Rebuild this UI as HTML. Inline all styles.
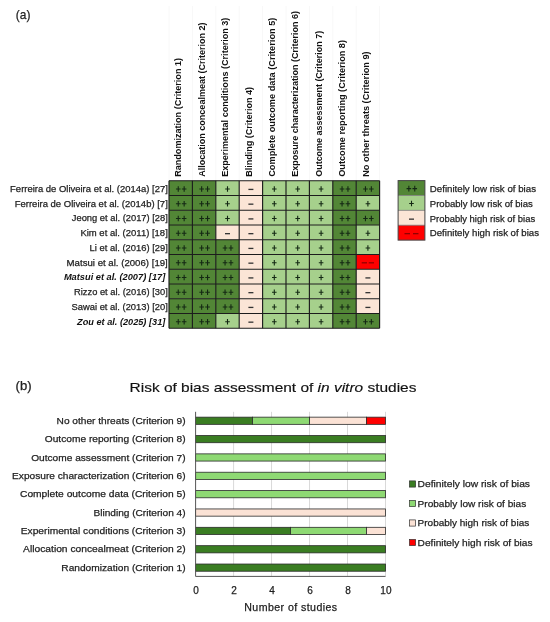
<!DOCTYPE html><html><head><meta charset="utf-8"><style>html,body{margin:0;padding:0;background:#fff;width:550px;height:622px;overflow:hidden}svg{display:block}text{font-family:"Liberation Sans",sans-serif}.n{stroke:#1e1e1e;stroke-width:0.25px}</style></head><body>
<svg style="will-change:transform;filter:blur(0.35px)" width="550" height="622" viewBox="0 0 550 622">
<rect width="550" height="622" fill="#fff"/>
<line x1="169.00" y1="6" x2="169.00" y2="180.70" stroke="#f8f8f8" stroke-width="1"/>
<line x1="192.40" y1="6" x2="192.40" y2="180.70" stroke="#f8f8f8" stroke-width="1"/>
<line x1="215.80" y1="6" x2="215.80" y2="180.70" stroke="#f8f8f8" stroke-width="1"/>
<line x1="239.20" y1="6" x2="239.20" y2="180.70" stroke="#f8f8f8" stroke-width="1"/>
<line x1="262.60" y1="6" x2="262.60" y2="180.70" stroke="#f8f8f8" stroke-width="1"/>
<line x1="286.00" y1="6" x2="286.00" y2="180.70" stroke="#f8f8f8" stroke-width="1"/>
<line x1="309.40" y1="6" x2="309.40" y2="180.70" stroke="#f8f8f8" stroke-width="1"/>
<line x1="332.80" y1="6" x2="332.80" y2="180.70" stroke="#f8f8f8" stroke-width="1"/>
<line x1="356.20" y1="6" x2="356.20" y2="180.70" stroke="#f8f8f8" stroke-width="1"/>
<line x1="379.60" y1="6" x2="379.60" y2="180.70" stroke="#f8f8f8" stroke-width="1"/>
<text x="15.8" y="19.3" font-size="12.8" fill="#222" class="n" textLength="14.6" lengthAdjust="spacingAndGlyphs">(a)</text>
<text transform="translate(181.40,176.8) rotate(-90)" font-size="9" font-weight="bold" fill="#111" textLength="118.8" lengthAdjust="spacingAndGlyphs">Randomization (Criterion 1)</text>
<text transform="translate(204.80,176.8) rotate(-90)" font-size="9" font-weight="bold" fill="#111" textLength="154.4" lengthAdjust="spacingAndGlyphs">Allocation concealmeat (Criterion 2)</text>
<text transform="translate(228.20,176.8) rotate(-90)" font-size="9" font-weight="bold" fill="#111" textLength="159.2" lengthAdjust="spacingAndGlyphs">Experimental conditions (Criterion 3)</text>
<text transform="translate(251.60,176.8) rotate(-90)" font-size="9" font-weight="bold" fill="#111" textLength="89.8" lengthAdjust="spacingAndGlyphs">Blinding (Criterion 4)</text>
<text transform="translate(275.00,176.8) rotate(-90)" font-size="9" font-weight="bold" fill="#111" textLength="159.2" lengthAdjust="spacingAndGlyphs">Complete outcome data (Criterion 5)</text>
<text transform="translate(298.40,176.8) rotate(-90)" font-size="9" font-weight="bold" fill="#111" textLength="165.8" lengthAdjust="spacingAndGlyphs">Exposure characterization (Criterion 6)</text>
<text transform="translate(321.80,176.8) rotate(-90)" font-size="9" font-weight="bold" fill="#111" textLength="146.0" lengthAdjust="spacingAndGlyphs">Outcome assessment (Criterion 7)</text>
<text transform="translate(345.20,176.8) rotate(-90)" font-size="9" font-weight="bold" fill="#111" textLength="136.8" lengthAdjust="spacingAndGlyphs">Outcome reporting (Criterion 8)</text>
<text transform="translate(368.60,176.8) rotate(-90)" font-size="9" font-weight="bold" fill="#111" textLength="125.4" lengthAdjust="spacingAndGlyphs">No other threats (Criterion 9)</text>
<text x="167.8" y="191.80" text-anchor="end" font-size="9.4" fill="#1e1e1e" class="n" textLength="157.7" lengthAdjust="spacingAndGlyphs">Ferreira de Oliveira et al. (2014a) [27]</text>
<text x="167.8" y="206.55" text-anchor="end" font-size="9.4" fill="#1e1e1e" class="n" textLength="153.1" lengthAdjust="spacingAndGlyphs">Ferreira de Oliveira et al. (2014b) [7]</text>
<text x="167.8" y="221.30" text-anchor="end" font-size="9.4" fill="#1e1e1e" class="n" textLength="96.0" lengthAdjust="spacingAndGlyphs">Jeong et al. (2017) [28]</text>
<text x="167.8" y="236.05" text-anchor="end" font-size="9.4" fill="#1e1e1e" class="n" textLength="87.4" lengthAdjust="spacingAndGlyphs">Kim et al. (2011) [18]</text>
<text x="167.8" y="250.80" text-anchor="end" font-size="9.4" fill="#1e1e1e" class="n" textLength="78.2" lengthAdjust="spacingAndGlyphs">Li et al. (2016) [29]</text>
<text x="167.8" y="265.55" text-anchor="end" font-size="9.4" fill="#1e1e1e" class="n" textLength="101.2" lengthAdjust="spacingAndGlyphs">Matsui et al. (2006) [19]</text>
<text x="165.3" y="280.30" text-anchor="end" font-size="9.4" font-weight="bold" font-style="italic" fill="#111" textLength="101.4" lengthAdjust="spacingAndGlyphs">Matsui et al. (2007) [17]</text>
<text x="167.8" y="295.05" text-anchor="end" font-size="9.4" fill="#1e1e1e" class="n" textLength="93.8" lengthAdjust="spacingAndGlyphs">Rizzo et al. (2016) [30]</text>
<text x="167.8" y="309.80" text-anchor="end" font-size="9.4" fill="#1e1e1e" class="n" textLength="96.2" lengthAdjust="spacingAndGlyphs">Sawai et al. (2013) [20]</text>
<text x="165.3" y="324.55" text-anchor="end" font-size="9.4" font-weight="bold" font-style="italic" fill="#111" textLength="88.2" lengthAdjust="spacingAndGlyphs">Zou et al. (2025) [31]</text>
<rect x="169.00" y="180.70" width="23.40" height="14.75" fill="#528636"/>
<path d="M177.70 186.17h1.1v5.60h-1.1zM175.95 188.42h4.60v1.1h-4.60z" fill="#142814"/>
<path d="M183.60 186.17h1.1v5.60h-1.1zM181.85 188.42h4.60v1.1h-4.60z" fill="#142814"/>
<rect x="192.40" y="180.70" width="23.40" height="14.75" fill="#528636"/>
<path d="M201.10 186.17h1.1v5.60h-1.1zM199.35 188.42h4.60v1.1h-4.60z" fill="#142814"/>
<path d="M207.00 186.17h1.1v5.60h-1.1zM205.25 188.42h4.60v1.1h-4.60z" fill="#142814"/>
<rect x="215.80" y="180.70" width="23.40" height="14.75" fill="#a6d08c"/>
<path d="M226.95 186.17h1.1v5.60h-1.1zM225.20 188.42h4.60v1.1h-4.60z" fill="#142814"/>
<rect x="239.20" y="180.70" width="23.40" height="14.75" fill="#fbe5d6"/>
<rect x="248.40" y="188.77" width="5" height="1.3" fill="#333"/>
<rect x="262.60" y="180.70" width="23.40" height="14.75" fill="#a6d08c"/>
<path d="M273.75 186.17h1.1v5.60h-1.1zM272.00 188.42h4.60v1.1h-4.60z" fill="#142814"/>
<rect x="286.00" y="180.70" width="23.40" height="14.75" fill="#a6d08c"/>
<path d="M297.15 186.17h1.1v5.60h-1.1zM295.40 188.42h4.60v1.1h-4.60z" fill="#142814"/>
<rect x="309.40" y="180.70" width="23.40" height="14.75" fill="#a6d08c"/>
<path d="M320.55 186.17h1.1v5.60h-1.1zM318.80 188.42h4.60v1.1h-4.60z" fill="#142814"/>
<rect x="332.80" y="180.70" width="23.40" height="14.75" fill="#528636"/>
<path d="M341.50 186.17h1.1v5.60h-1.1zM339.75 188.42h4.60v1.1h-4.60z" fill="#142814"/>
<path d="M347.40 186.17h1.1v5.60h-1.1zM345.65 188.42h4.60v1.1h-4.60z" fill="#142814"/>
<rect x="356.20" y="180.70" width="23.40" height="14.75" fill="#528636"/>
<path d="M364.90 186.17h1.1v5.60h-1.1zM363.15 188.42h4.60v1.1h-4.60z" fill="#142814"/>
<path d="M370.80 186.17h1.1v5.60h-1.1zM369.05 188.42h4.60v1.1h-4.60z" fill="#142814"/>
<rect x="169.00" y="195.45" width="23.40" height="14.75" fill="#528636"/>
<path d="M177.70 200.92h1.1v5.60h-1.1zM175.95 203.17h4.60v1.1h-4.60z" fill="#142814"/>
<path d="M183.60 200.92h1.1v5.60h-1.1zM181.85 203.17h4.60v1.1h-4.60z" fill="#142814"/>
<rect x="192.40" y="195.45" width="23.40" height="14.75" fill="#528636"/>
<path d="M201.10 200.92h1.1v5.60h-1.1zM199.35 203.17h4.60v1.1h-4.60z" fill="#142814"/>
<path d="M207.00 200.92h1.1v5.60h-1.1zM205.25 203.17h4.60v1.1h-4.60z" fill="#142814"/>
<rect x="215.80" y="195.45" width="23.40" height="14.75" fill="#a6d08c"/>
<path d="M226.95 200.92h1.1v5.60h-1.1zM225.20 203.17h4.60v1.1h-4.60z" fill="#142814"/>
<rect x="239.20" y="195.45" width="23.40" height="14.75" fill="#fbe5d6"/>
<rect x="248.40" y="203.52" width="5" height="1.3" fill="#333"/>
<rect x="262.60" y="195.45" width="23.40" height="14.75" fill="#a6d08c"/>
<path d="M273.75 200.92h1.1v5.60h-1.1zM272.00 203.17h4.60v1.1h-4.60z" fill="#142814"/>
<rect x="286.00" y="195.45" width="23.40" height="14.75" fill="#a6d08c"/>
<path d="M297.15 200.92h1.1v5.60h-1.1zM295.40 203.17h4.60v1.1h-4.60z" fill="#142814"/>
<rect x="309.40" y="195.45" width="23.40" height="14.75" fill="#a6d08c"/>
<path d="M320.55 200.92h1.1v5.60h-1.1zM318.80 203.17h4.60v1.1h-4.60z" fill="#142814"/>
<rect x="332.80" y="195.45" width="23.40" height="14.75" fill="#528636"/>
<path d="M341.50 200.92h1.1v5.60h-1.1zM339.75 203.17h4.60v1.1h-4.60z" fill="#142814"/>
<path d="M347.40 200.92h1.1v5.60h-1.1zM345.65 203.17h4.60v1.1h-4.60z" fill="#142814"/>
<rect x="356.20" y="195.45" width="23.40" height="14.75" fill="#a6d08c"/>
<path d="M367.35 200.92h1.1v5.60h-1.1zM365.60 203.17h4.60v1.1h-4.60z" fill="#142814"/>
<rect x="169.00" y="210.20" width="23.40" height="14.75" fill="#528636"/>
<path d="M177.70 215.67h1.1v5.60h-1.1zM175.95 217.92h4.60v1.1h-4.60z" fill="#142814"/>
<path d="M183.60 215.67h1.1v5.60h-1.1zM181.85 217.92h4.60v1.1h-4.60z" fill="#142814"/>
<rect x="192.40" y="210.20" width="23.40" height="14.75" fill="#528636"/>
<path d="M201.10 215.67h1.1v5.60h-1.1zM199.35 217.92h4.60v1.1h-4.60z" fill="#142814"/>
<path d="M207.00 215.67h1.1v5.60h-1.1zM205.25 217.92h4.60v1.1h-4.60z" fill="#142814"/>
<rect x="215.80" y="210.20" width="23.40" height="14.75" fill="#a6d08c"/>
<path d="M226.95 215.67h1.1v5.60h-1.1zM225.20 217.92h4.60v1.1h-4.60z" fill="#142814"/>
<rect x="239.20" y="210.20" width="23.40" height="14.75" fill="#fbe5d6"/>
<rect x="248.40" y="218.27" width="5" height="1.3" fill="#333"/>
<rect x="262.60" y="210.20" width="23.40" height="14.75" fill="#a6d08c"/>
<path d="M273.75 215.67h1.1v5.60h-1.1zM272.00 217.92h4.60v1.1h-4.60z" fill="#142814"/>
<rect x="286.00" y="210.20" width="23.40" height="14.75" fill="#a6d08c"/>
<path d="M297.15 215.67h1.1v5.60h-1.1zM295.40 217.92h4.60v1.1h-4.60z" fill="#142814"/>
<rect x="309.40" y="210.20" width="23.40" height="14.75" fill="#a6d08c"/>
<path d="M320.55 215.67h1.1v5.60h-1.1zM318.80 217.92h4.60v1.1h-4.60z" fill="#142814"/>
<rect x="332.80" y="210.20" width="23.40" height="14.75" fill="#528636"/>
<path d="M341.50 215.67h1.1v5.60h-1.1zM339.75 217.92h4.60v1.1h-4.60z" fill="#142814"/>
<path d="M347.40 215.67h1.1v5.60h-1.1zM345.65 217.92h4.60v1.1h-4.60z" fill="#142814"/>
<rect x="356.20" y="210.20" width="23.40" height="14.75" fill="#528636"/>
<path d="M364.90 215.67h1.1v5.60h-1.1zM363.15 217.92h4.60v1.1h-4.60z" fill="#142814"/>
<path d="M370.80 215.67h1.1v5.60h-1.1zM369.05 217.92h4.60v1.1h-4.60z" fill="#142814"/>
<rect x="169.00" y="224.95" width="23.40" height="14.75" fill="#528636"/>
<path d="M177.70 230.42h1.1v5.60h-1.1zM175.95 232.67h4.60v1.1h-4.60z" fill="#142814"/>
<path d="M183.60 230.42h1.1v5.60h-1.1zM181.85 232.67h4.60v1.1h-4.60z" fill="#142814"/>
<rect x="192.40" y="224.95" width="23.40" height="14.75" fill="#528636"/>
<path d="M201.10 230.42h1.1v5.60h-1.1zM199.35 232.67h4.60v1.1h-4.60z" fill="#142814"/>
<path d="M207.00 230.42h1.1v5.60h-1.1zM205.25 232.67h4.60v1.1h-4.60z" fill="#142814"/>
<rect x="215.80" y="224.95" width="23.40" height="14.75" fill="#fbe5d6"/>
<rect x="225.00" y="233.02" width="5" height="1.3" fill="#333"/>
<rect x="239.20" y="224.95" width="23.40" height="14.75" fill="#fbe5d6"/>
<rect x="248.40" y="233.02" width="5" height="1.3" fill="#333"/>
<rect x="262.60" y="224.95" width="23.40" height="14.75" fill="#a6d08c"/>
<path d="M273.75 230.42h1.1v5.60h-1.1zM272.00 232.67h4.60v1.1h-4.60z" fill="#142814"/>
<rect x="286.00" y="224.95" width="23.40" height="14.75" fill="#a6d08c"/>
<path d="M297.15 230.42h1.1v5.60h-1.1zM295.40 232.67h4.60v1.1h-4.60z" fill="#142814"/>
<rect x="309.40" y="224.95" width="23.40" height="14.75" fill="#a6d08c"/>
<path d="M320.55 230.42h1.1v5.60h-1.1zM318.80 232.67h4.60v1.1h-4.60z" fill="#142814"/>
<rect x="332.80" y="224.95" width="23.40" height="14.75" fill="#528636"/>
<path d="M341.50 230.42h1.1v5.60h-1.1zM339.75 232.67h4.60v1.1h-4.60z" fill="#142814"/>
<path d="M347.40 230.42h1.1v5.60h-1.1zM345.65 232.67h4.60v1.1h-4.60z" fill="#142814"/>
<rect x="356.20" y="224.95" width="23.40" height="14.75" fill="#a6d08c"/>
<path d="M367.35 230.42h1.1v5.60h-1.1zM365.60 232.67h4.60v1.1h-4.60z" fill="#142814"/>
<rect x="169.00" y="239.70" width="23.40" height="14.75" fill="#528636"/>
<path d="M177.70 245.17h1.1v5.60h-1.1zM175.95 247.42h4.60v1.1h-4.60z" fill="#142814"/>
<path d="M183.60 245.17h1.1v5.60h-1.1zM181.85 247.42h4.60v1.1h-4.60z" fill="#142814"/>
<rect x="192.40" y="239.70" width="23.40" height="14.75" fill="#528636"/>
<path d="M201.10 245.17h1.1v5.60h-1.1zM199.35 247.42h4.60v1.1h-4.60z" fill="#142814"/>
<path d="M207.00 245.17h1.1v5.60h-1.1zM205.25 247.42h4.60v1.1h-4.60z" fill="#142814"/>
<rect x="215.80" y="239.70" width="23.40" height="14.75" fill="#528636"/>
<path d="M224.50 245.17h1.1v5.60h-1.1zM222.75 247.42h4.60v1.1h-4.60z" fill="#142814"/>
<path d="M230.40 245.17h1.1v5.60h-1.1zM228.65 247.42h4.60v1.1h-4.60z" fill="#142814"/>
<rect x="239.20" y="239.70" width="23.40" height="14.75" fill="#fbe5d6"/>
<rect x="248.40" y="247.77" width="5" height="1.3" fill="#333"/>
<rect x="262.60" y="239.70" width="23.40" height="14.75" fill="#a6d08c"/>
<path d="M273.75 245.17h1.1v5.60h-1.1zM272.00 247.42h4.60v1.1h-4.60z" fill="#142814"/>
<rect x="286.00" y="239.70" width="23.40" height="14.75" fill="#a6d08c"/>
<path d="M297.15 245.17h1.1v5.60h-1.1zM295.40 247.42h4.60v1.1h-4.60z" fill="#142814"/>
<rect x="309.40" y="239.70" width="23.40" height="14.75" fill="#a6d08c"/>
<path d="M320.55 245.17h1.1v5.60h-1.1zM318.80 247.42h4.60v1.1h-4.60z" fill="#142814"/>
<rect x="332.80" y="239.70" width="23.40" height="14.75" fill="#528636"/>
<path d="M341.50 245.17h1.1v5.60h-1.1zM339.75 247.42h4.60v1.1h-4.60z" fill="#142814"/>
<path d="M347.40 245.17h1.1v5.60h-1.1zM345.65 247.42h4.60v1.1h-4.60z" fill="#142814"/>
<rect x="356.20" y="239.70" width="23.40" height="14.75" fill="#a6d08c"/>
<path d="M367.35 245.17h1.1v5.60h-1.1zM365.60 247.42h4.60v1.1h-4.60z" fill="#142814"/>
<rect x="169.00" y="254.45" width="23.40" height="14.75" fill="#528636"/>
<path d="M177.70 259.92h1.1v5.60h-1.1zM175.95 262.17h4.60v1.1h-4.60z" fill="#142814"/>
<path d="M183.60 259.92h1.1v5.60h-1.1zM181.85 262.17h4.60v1.1h-4.60z" fill="#142814"/>
<rect x="192.40" y="254.45" width="23.40" height="14.75" fill="#528636"/>
<path d="M201.10 259.92h1.1v5.60h-1.1zM199.35 262.17h4.60v1.1h-4.60z" fill="#142814"/>
<path d="M207.00 259.92h1.1v5.60h-1.1zM205.25 262.17h4.60v1.1h-4.60z" fill="#142814"/>
<rect x="215.80" y="254.45" width="23.40" height="14.75" fill="#528636"/>
<path d="M224.50 259.92h1.1v5.60h-1.1zM222.75 262.17h4.60v1.1h-4.60z" fill="#142814"/>
<path d="M230.40 259.92h1.1v5.60h-1.1zM228.65 262.17h4.60v1.1h-4.60z" fill="#142814"/>
<rect x="239.20" y="254.45" width="23.40" height="14.75" fill="#fbe5d6"/>
<rect x="248.40" y="262.52" width="5" height="1.3" fill="#333"/>
<rect x="262.60" y="254.45" width="23.40" height="14.75" fill="#a6d08c"/>
<path d="M273.75 259.92h1.1v5.60h-1.1zM272.00 262.17h4.60v1.1h-4.60z" fill="#142814"/>
<rect x="286.00" y="254.45" width="23.40" height="14.75" fill="#a6d08c"/>
<path d="M297.15 259.92h1.1v5.60h-1.1zM295.40 262.17h4.60v1.1h-4.60z" fill="#142814"/>
<rect x="309.40" y="254.45" width="23.40" height="14.75" fill="#a6d08c"/>
<path d="M320.55 259.92h1.1v5.60h-1.1zM318.80 262.17h4.60v1.1h-4.60z" fill="#142814"/>
<rect x="332.80" y="254.45" width="23.40" height="14.75" fill="#528636"/>
<path d="M341.50 259.92h1.1v5.60h-1.1zM339.75 262.17h4.60v1.1h-4.60z" fill="#142814"/>
<path d="M347.40 259.92h1.1v5.60h-1.1zM345.65 262.17h4.60v1.1h-4.60z" fill="#142814"/>
<rect x="356.20" y="254.45" width="23.40" height="14.75" fill="#ff0000"/>
<rect x="361.70" y="262.22" width="5.3" height="1.2" fill="#8a0000"/>
<rect x="368.70" y="262.22" width="5.3" height="1.2" fill="#8a0000"/>
<rect x="169.00" y="269.20" width="23.40" height="14.75" fill="#528636"/>
<path d="M177.70 274.67h1.1v5.60h-1.1zM175.95 276.92h4.60v1.1h-4.60z" fill="#142814"/>
<path d="M183.60 274.67h1.1v5.60h-1.1zM181.85 276.92h4.60v1.1h-4.60z" fill="#142814"/>
<rect x="192.40" y="269.20" width="23.40" height="14.75" fill="#528636"/>
<path d="M201.10 274.67h1.1v5.60h-1.1zM199.35 276.92h4.60v1.1h-4.60z" fill="#142814"/>
<path d="M207.00 274.67h1.1v5.60h-1.1zM205.25 276.92h4.60v1.1h-4.60z" fill="#142814"/>
<rect x="215.80" y="269.20" width="23.40" height="14.75" fill="#528636"/>
<path d="M224.50 274.67h1.1v5.60h-1.1zM222.75 276.92h4.60v1.1h-4.60z" fill="#142814"/>
<path d="M230.40 274.67h1.1v5.60h-1.1zM228.65 276.92h4.60v1.1h-4.60z" fill="#142814"/>
<rect x="239.20" y="269.20" width="23.40" height="14.75" fill="#fbe5d6"/>
<rect x="248.40" y="277.27" width="5" height="1.3" fill="#333"/>
<rect x="262.60" y="269.20" width="23.40" height="14.75" fill="#a6d08c"/>
<path d="M273.75 274.67h1.1v5.60h-1.1zM272.00 276.92h4.60v1.1h-4.60z" fill="#142814"/>
<rect x="286.00" y="269.20" width="23.40" height="14.75" fill="#a6d08c"/>
<path d="M297.15 274.67h1.1v5.60h-1.1zM295.40 276.92h4.60v1.1h-4.60z" fill="#142814"/>
<rect x="309.40" y="269.20" width="23.40" height="14.75" fill="#a6d08c"/>
<path d="M320.55 274.67h1.1v5.60h-1.1zM318.80 276.92h4.60v1.1h-4.60z" fill="#142814"/>
<rect x="332.80" y="269.20" width="23.40" height="14.75" fill="#528636"/>
<path d="M341.50 274.67h1.1v5.60h-1.1zM339.75 276.92h4.60v1.1h-4.60z" fill="#142814"/>
<path d="M347.40 274.67h1.1v5.60h-1.1zM345.65 276.92h4.60v1.1h-4.60z" fill="#142814"/>
<rect x="356.20" y="269.20" width="23.40" height="14.75" fill="#fbe5d6"/>
<rect x="365.40" y="277.27" width="5" height="1.3" fill="#333"/>
<rect x="169.00" y="283.95" width="23.40" height="14.75" fill="#528636"/>
<path d="M177.70 289.42h1.1v5.60h-1.1zM175.95 291.67h4.60v1.1h-4.60z" fill="#142814"/>
<path d="M183.60 289.42h1.1v5.60h-1.1zM181.85 291.67h4.60v1.1h-4.60z" fill="#142814"/>
<rect x="192.40" y="283.95" width="23.40" height="14.75" fill="#528636"/>
<path d="M201.10 289.42h1.1v5.60h-1.1zM199.35 291.67h4.60v1.1h-4.60z" fill="#142814"/>
<path d="M207.00 289.42h1.1v5.60h-1.1zM205.25 291.67h4.60v1.1h-4.60z" fill="#142814"/>
<rect x="215.80" y="283.95" width="23.40" height="14.75" fill="#528636"/>
<path d="M224.50 289.42h1.1v5.60h-1.1zM222.75 291.67h4.60v1.1h-4.60z" fill="#142814"/>
<path d="M230.40 289.42h1.1v5.60h-1.1zM228.65 291.67h4.60v1.1h-4.60z" fill="#142814"/>
<rect x="239.20" y="283.95" width="23.40" height="14.75" fill="#fbe5d6"/>
<rect x="248.40" y="292.02" width="5" height="1.3" fill="#333"/>
<rect x="262.60" y="283.95" width="23.40" height="14.75" fill="#a6d08c"/>
<path d="M273.75 289.42h1.1v5.60h-1.1zM272.00 291.67h4.60v1.1h-4.60z" fill="#142814"/>
<rect x="286.00" y="283.95" width="23.40" height="14.75" fill="#a6d08c"/>
<path d="M297.15 289.42h1.1v5.60h-1.1zM295.40 291.67h4.60v1.1h-4.60z" fill="#142814"/>
<rect x="309.40" y="283.95" width="23.40" height="14.75" fill="#a6d08c"/>
<path d="M320.55 289.42h1.1v5.60h-1.1zM318.80 291.67h4.60v1.1h-4.60z" fill="#142814"/>
<rect x="332.80" y="283.95" width="23.40" height="14.75" fill="#528636"/>
<path d="M341.50 289.42h1.1v5.60h-1.1zM339.75 291.67h4.60v1.1h-4.60z" fill="#142814"/>
<path d="M347.40 289.42h1.1v5.60h-1.1zM345.65 291.67h4.60v1.1h-4.60z" fill="#142814"/>
<rect x="356.20" y="283.95" width="23.40" height="14.75" fill="#fbe5d6"/>
<rect x="365.40" y="292.02" width="5" height="1.3" fill="#333"/>
<rect x="169.00" y="298.70" width="23.40" height="14.75" fill="#528636"/>
<path d="M177.70 304.17h1.1v5.60h-1.1zM175.95 306.42h4.60v1.1h-4.60z" fill="#142814"/>
<path d="M183.60 304.17h1.1v5.60h-1.1zM181.85 306.42h4.60v1.1h-4.60z" fill="#142814"/>
<rect x="192.40" y="298.70" width="23.40" height="14.75" fill="#528636"/>
<path d="M201.10 304.17h1.1v5.60h-1.1zM199.35 306.42h4.60v1.1h-4.60z" fill="#142814"/>
<path d="M207.00 304.17h1.1v5.60h-1.1zM205.25 306.42h4.60v1.1h-4.60z" fill="#142814"/>
<rect x="215.80" y="298.70" width="23.40" height="14.75" fill="#528636"/>
<path d="M224.50 304.17h1.1v5.60h-1.1zM222.75 306.42h4.60v1.1h-4.60z" fill="#142814"/>
<path d="M230.40 304.17h1.1v5.60h-1.1zM228.65 306.42h4.60v1.1h-4.60z" fill="#142814"/>
<rect x="239.20" y="298.70" width="23.40" height="14.75" fill="#fbe5d6"/>
<rect x="248.40" y="306.77" width="5" height="1.3" fill="#333"/>
<rect x="262.60" y="298.70" width="23.40" height="14.75" fill="#a6d08c"/>
<path d="M273.75 304.17h1.1v5.60h-1.1zM272.00 306.42h4.60v1.1h-4.60z" fill="#142814"/>
<rect x="286.00" y="298.70" width="23.40" height="14.75" fill="#a6d08c"/>
<path d="M297.15 304.17h1.1v5.60h-1.1zM295.40 306.42h4.60v1.1h-4.60z" fill="#142814"/>
<rect x="309.40" y="298.70" width="23.40" height="14.75" fill="#a6d08c"/>
<path d="M320.55 304.17h1.1v5.60h-1.1zM318.80 306.42h4.60v1.1h-4.60z" fill="#142814"/>
<rect x="332.80" y="298.70" width="23.40" height="14.75" fill="#528636"/>
<path d="M341.50 304.17h1.1v5.60h-1.1zM339.75 306.42h4.60v1.1h-4.60z" fill="#142814"/>
<path d="M347.40 304.17h1.1v5.60h-1.1zM345.65 306.42h4.60v1.1h-4.60z" fill="#142814"/>
<rect x="356.20" y="298.70" width="23.40" height="14.75" fill="#fbe5d6"/>
<rect x="365.40" y="306.77" width="5" height="1.3" fill="#333"/>
<rect x="169.00" y="313.45" width="23.40" height="14.75" fill="#528636"/>
<path d="M177.70 318.92h1.1v5.60h-1.1zM175.95 321.17h4.60v1.1h-4.60z" fill="#142814"/>
<path d="M183.60 318.92h1.1v5.60h-1.1zM181.85 321.17h4.60v1.1h-4.60z" fill="#142814"/>
<rect x="192.40" y="313.45" width="23.40" height="14.75" fill="#528636"/>
<path d="M201.10 318.92h1.1v5.60h-1.1zM199.35 321.17h4.60v1.1h-4.60z" fill="#142814"/>
<path d="M207.00 318.92h1.1v5.60h-1.1zM205.25 321.17h4.60v1.1h-4.60z" fill="#142814"/>
<rect x="215.80" y="313.45" width="23.40" height="14.75" fill="#a6d08c"/>
<path d="M226.95 318.92h1.1v5.60h-1.1zM225.20 321.17h4.60v1.1h-4.60z" fill="#142814"/>
<rect x="239.20" y="313.45" width="23.40" height="14.75" fill="#fbe5d6"/>
<rect x="248.40" y="321.52" width="5" height="1.3" fill="#333"/>
<rect x="262.60" y="313.45" width="23.40" height="14.75" fill="#a6d08c"/>
<path d="M273.75 318.92h1.1v5.60h-1.1zM272.00 321.17h4.60v1.1h-4.60z" fill="#142814"/>
<rect x="286.00" y="313.45" width="23.40" height="14.75" fill="#a6d08c"/>
<path d="M297.15 318.92h1.1v5.60h-1.1zM295.40 321.17h4.60v1.1h-4.60z" fill="#142814"/>
<rect x="309.40" y="313.45" width="23.40" height="14.75" fill="#a6d08c"/>
<path d="M320.55 318.92h1.1v5.60h-1.1zM318.80 321.17h4.60v1.1h-4.60z" fill="#142814"/>
<rect x="332.80" y="313.45" width="23.40" height="14.75" fill="#528636"/>
<path d="M341.50 318.92h1.1v5.60h-1.1zM339.75 321.17h4.60v1.1h-4.60z" fill="#142814"/>
<path d="M347.40 318.92h1.1v5.60h-1.1zM345.65 321.17h4.60v1.1h-4.60z" fill="#142814"/>
<rect x="356.20" y="313.45" width="23.40" height="14.75" fill="#528636"/>
<path d="M364.90 318.92h1.1v5.60h-1.1zM363.15 321.17h4.60v1.1h-4.60z" fill="#142814"/>
<path d="M370.80 318.92h1.1v5.60h-1.1zM369.05 321.17h4.60v1.1h-4.60z" fill="#142814"/>
<line x1="169.00" y1="180.70" x2="169.00" y2="328.20" stroke="#1c1c1c" stroke-width="1.15"/>
<line x1="192.40" y1="180.70" x2="192.40" y2="328.20" stroke="#1c1c1c" stroke-width="1.15"/>
<line x1="215.80" y1="180.70" x2="215.80" y2="328.20" stroke="#1c1c1c" stroke-width="1.15"/>
<line x1="239.20" y1="180.70" x2="239.20" y2="328.20" stroke="#1c1c1c" stroke-width="1.15"/>
<line x1="262.60" y1="180.70" x2="262.60" y2="328.20" stroke="#1c1c1c" stroke-width="1.15"/>
<line x1="286.00" y1="180.70" x2="286.00" y2="328.20" stroke="#1c1c1c" stroke-width="1.15"/>
<line x1="309.40" y1="180.70" x2="309.40" y2="328.20" stroke="#1c1c1c" stroke-width="1.15"/>
<line x1="332.80" y1="180.70" x2="332.80" y2="328.20" stroke="#1c1c1c" stroke-width="1.15"/>
<line x1="356.20" y1="180.70" x2="356.20" y2="328.20" stroke="#1c1c1c" stroke-width="1.15"/>
<line x1="379.60" y1="180.70" x2="379.60" y2="328.20" stroke="#1c1c1c" stroke-width="1.15"/>
<line x1="169.00" y1="180.70" x2="379.60" y2="180.70" stroke="#1c1c1c" stroke-width="1.15"/>
<line x1="169.00" y1="195.45" x2="379.60" y2="195.45" stroke="#1c1c1c" stroke-width="1.15"/>
<line x1="169.00" y1="210.20" x2="379.60" y2="210.20" stroke="#1c1c1c" stroke-width="1.15"/>
<line x1="169.00" y1="224.95" x2="379.60" y2="224.95" stroke="#1c1c1c" stroke-width="1.15"/>
<line x1="169.00" y1="239.70" x2="379.60" y2="239.70" stroke="#1c1c1c" stroke-width="1.15"/>
<line x1="169.00" y1="254.45" x2="379.60" y2="254.45" stroke="#1c1c1c" stroke-width="1.15"/>
<line x1="169.00" y1="269.20" x2="379.60" y2="269.20" stroke="#1c1c1c" stroke-width="1.15"/>
<line x1="169.00" y1="283.95" x2="379.60" y2="283.95" stroke="#1c1c1c" stroke-width="1.15"/>
<line x1="169.00" y1="298.70" x2="379.60" y2="298.70" stroke="#1c1c1c" stroke-width="1.15"/>
<line x1="169.00" y1="313.45" x2="379.60" y2="313.45" stroke="#1c1c1c" stroke-width="1.15"/>
<line x1="169.00" y1="328.20" x2="379.60" y2="328.20" stroke="#1c1c1c" stroke-width="1.15"/>
<rect x="398.1" y="180.60" width="26.8" height="14.88" fill="#528636"/>
<path d="M408.30 185.84h1.1v5.60h-1.1zM406.55 188.09h4.60v1.1h-4.60z" fill="#142814"/>
<path d="M414.20 185.84h1.1v5.60h-1.1zM412.45 188.09h4.60v1.1h-4.60z" fill="#142814"/>
<text x="429.8" y="191.74" font-size="9.6" fill="#1e1e1e" class="n" textLength="106.2" lengthAdjust="spacingAndGlyphs">Definitely low risk of bias</text>
<rect x="398.1" y="195.48" width="26.8" height="14.88" fill="#a6d08c"/>
<path d="M410.95 200.72h1.1v5.60h-1.1zM409.20 202.97h4.60v1.1h-4.60z" fill="#142814"/>
<text x="429.8" y="206.62" font-size="9.6" fill="#1e1e1e" class="n" textLength="103.0" lengthAdjust="spacingAndGlyphs">Probably low risk of bias</text>
<rect x="398.1" y="210.36" width="26.8" height="14.88" fill="#fbe5d6"/>
<rect x="409.00" y="218.50" width="5" height="1.3" fill="#333"/>
<text x="429.8" y="221.50" font-size="9.6" fill="#1e1e1e" class="n" textLength="105.3" lengthAdjust="spacingAndGlyphs">Probably high risk of bias</text>
<rect x="398.1" y="225.24" width="26.8" height="14.88" fill="#ff0000"/>
<rect x="404.50" y="233.08" width="5.5" height="1.2" fill="#8a0000"/>
<rect x="413.00" y="233.08" width="5.5" height="1.2" fill="#8a0000"/>
<text x="429.8" y="236.38" font-size="9.6" fill="#1e1e1e" class="n" textLength="109.2" lengthAdjust="spacingAndGlyphs">Definitely high risk of bias</text>
<line x1="398.1" y1="195.48" x2="424.90000000000003" y2="195.48" stroke="#777" stroke-width="0.8"/>
<line x1="398.1" y1="210.36" x2="424.90000000000003" y2="210.36" stroke="#777" stroke-width="0.8"/>
<line x1="398.1" y1="225.24" x2="424.90000000000003" y2="225.24" stroke="#777" stroke-width="0.8"/>
<rect x="398.1" y="180.6" width="26.8" height="59.52" fill="none" stroke="#444" stroke-width="1"/>
<text x="15.6" y="389.8" font-size="12" fill="#222" class="n" textLength="16" lengthAdjust="spacingAndGlyphs">(b)</text>
<text x="129.6" y="391.6" font-size="13" fill="#111" stroke="#111" stroke-width="0.15" textLength="286.8" lengthAdjust="spacingAndGlyphs">Risk of bias assessment of <tspan font-style="italic">in vitro</tspan> studies</text>
<line x1="233.58" y1="411.80" x2="233.58" y2="576.40" stroke="#d9d9d9" stroke-width="1"/>
<line x1="271.56" y1="411.80" x2="271.56" y2="576.40" stroke="#d9d9d9" stroke-width="1"/>
<line x1="309.54" y1="411.80" x2="309.54" y2="576.40" stroke="#d9d9d9" stroke-width="1"/>
<line x1="347.52" y1="411.80" x2="347.52" y2="576.40" stroke="#d9d9d9" stroke-width="1"/>
<line x1="385.50" y1="411.80" x2="385.50" y2="576.40" stroke="#d9d9d9" stroke-width="1"/>
<text x="185.6" y="423.85" text-anchor="end" font-size="9.9" fill="#1e1e1e" class="n" textLength="129.0" lengthAdjust="spacingAndGlyphs">No other threats (Criterion 9)</text>
<rect x="195.60" y="417.15" width="56.97" height="7.20" fill="#3a7d22" stroke="#2a2a2a" stroke-width="0.8"/>
<rect x="252.57" y="417.15" width="56.97" height="7.20" fill="#8ed973" stroke="#2a2a2a" stroke-width="0.8"/>
<rect x="309.54" y="417.15" width="56.97" height="7.20" fill="#fbe2d5" stroke="#2a2a2a" stroke-width="0.8"/>
<rect x="366.51" y="417.15" width="18.99" height="7.20" fill="#ff0000" stroke="#2a2a2a" stroke-width="0.8"/>
<text x="185.6" y="442.21" text-anchor="end" font-size="9.9" fill="#1e1e1e" class="n" textLength="140.8" lengthAdjust="spacingAndGlyphs">Outcome reporting (Criterion 8)</text>
<rect x="195.60" y="435.51" width="189.90" height="7.20" fill="#3a7d22" stroke="#2a2a2a" stroke-width="0.8"/>
<text x="185.6" y="460.57" text-anchor="end" font-size="9.9" fill="#1e1e1e" class="n" textLength="154.4" lengthAdjust="spacingAndGlyphs">Outcome assessment (Criterion 7)</text>
<rect x="195.60" y="453.87" width="189.90" height="7.20" fill="#8ed973" stroke="#2a2a2a" stroke-width="0.8"/>
<text x="185.6" y="478.93" text-anchor="end" font-size="9.9" fill="#1e1e1e" class="n" textLength="173.5" lengthAdjust="spacingAndGlyphs">Exposure characterization (Criterion 6)</text>
<rect x="195.60" y="472.23" width="189.90" height="7.20" fill="#8ed973" stroke="#2a2a2a" stroke-width="0.8"/>
<text x="185.6" y="497.29" text-anchor="end" font-size="9.9" fill="#1e1e1e" class="n" textLength="165.6" lengthAdjust="spacingAndGlyphs">Complete outcome data (Criterion 5)</text>
<rect x="195.60" y="490.59" width="189.90" height="7.20" fill="#8ed973" stroke="#2a2a2a" stroke-width="0.8"/>
<text x="185.6" y="515.65" text-anchor="end" font-size="9.9" fill="#1e1e1e" class="n" textLength="92.2" lengthAdjust="spacingAndGlyphs">Blinding (Criterion 4)</text>
<rect x="195.60" y="508.95" width="189.90" height="7.20" fill="#fbe2d5" stroke="#2a2a2a" stroke-width="0.8"/>
<text x="185.6" y="534.01" text-anchor="end" font-size="9.9" fill="#1e1e1e" class="n" textLength="164.8" lengthAdjust="spacingAndGlyphs">Experimental conditions (Criterion 3)</text>
<rect x="195.60" y="527.31" width="94.95" height="7.20" fill="#3a7d22" stroke="#2a2a2a" stroke-width="0.8"/>
<rect x="290.55" y="527.31" width="75.96" height="7.20" fill="#8ed973" stroke="#2a2a2a" stroke-width="0.8"/>
<rect x="366.51" y="527.31" width="18.99" height="7.20" fill="#fbe2d5" stroke="#2a2a2a" stroke-width="0.8"/>
<text x="185.6" y="552.37" text-anchor="end" font-size="9.9" fill="#1e1e1e" class="n" textLength="162.5" lengthAdjust="spacingAndGlyphs">Allocation concealmeat (Criterion 2)</text>
<rect x="195.60" y="545.67" width="189.90" height="7.20" fill="#3a7d22" stroke="#2a2a2a" stroke-width="0.8"/>
<text x="185.6" y="570.73" text-anchor="end" font-size="9.9" fill="#1e1e1e" class="n" textLength="124.3" lengthAdjust="spacingAndGlyphs">Randomization (Criterion 1)</text>
<rect x="195.60" y="564.03" width="189.90" height="7.20" fill="#3a7d22" stroke="#2a2a2a" stroke-width="0.8"/>
<line x1="195.60" y1="411.80" x2="195.60" y2="576.40" stroke="#555" stroke-width="1"/>
<line x1="195.60" y1="576.40" x2="385.50" y2="576.40" stroke="#555" stroke-width="1"/>
<text x="196.00" y="593.5" text-anchor="middle" font-size="10" fill="#1e1e1e" class="n">0</text>
<text x="233.98" y="593.5" text-anchor="middle" font-size="10" fill="#1e1e1e" class="n">2</text>
<text x="271.96" y="593.5" text-anchor="middle" font-size="10" fill="#1e1e1e" class="n">4</text>
<text x="309.94" y="593.5" text-anchor="middle" font-size="10" fill="#1e1e1e" class="n">6</text>
<text x="347.92" y="593.5" text-anchor="middle" font-size="10" fill="#1e1e1e" class="n">8</text>
<text x="385.90" y="593.5" text-anchor="middle" font-size="10" fill="#1e1e1e" class="n">10</text>
<text x="244.3" y="610.5" font-size="10.6" fill="#222" class="n" textLength="92.8" lengthAdjust="spacing">Number of studies</text>
<rect x="409.4" y="480.90" width="6.2" height="6.2" fill="#3a7d22" stroke="#333" stroke-width="0.7"/>
<text x="417.6" y="487.10" font-size="9.8" fill="#1e1e1e" class="n" textLength="112.4" lengthAdjust="spacingAndGlyphs">Definitely low risk of bias</text>
<rect x="409.4" y="500.40" width="6.2" height="6.2" fill="#8ed973" stroke="#333" stroke-width="0.7"/>
<text x="417.6" y="506.60" font-size="9.8" fill="#1e1e1e" class="n" textLength="108.6" lengthAdjust="spacingAndGlyphs">Probably low risk of bias</text>
<rect x="409.4" y="519.90" width="6.2" height="6.2" fill="#fbe2d5" stroke="#333" stroke-width="0.7"/>
<text x="417.6" y="526.10" font-size="9.8" fill="#1e1e1e" class="n" textLength="111.6" lengthAdjust="spacingAndGlyphs">Probably high risk of bias</text>
<rect x="409.4" y="539.40" width="6.2" height="6.2" fill="#ff0000" stroke="#333" stroke-width="0.7"/>
<text x="417.6" y="545.60" font-size="9.8" fill="#1e1e1e" class="n" textLength="115.0" lengthAdjust="spacingAndGlyphs">Definitely high risk of bias</text>
</svg></body></html>
